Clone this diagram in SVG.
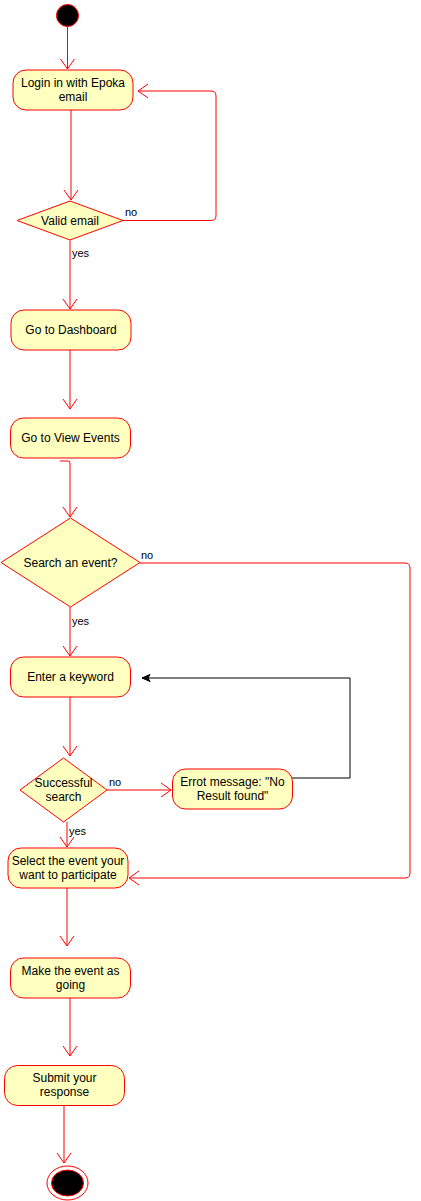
<svg xmlns="http://www.w3.org/2000/svg" width="421" height="1201" viewBox="0 0 421 1201">
<defs>
<style>
.n{fill:#ffffc0;stroke:#ff0000;stroke-width:1}
.t{font-family:"Liberation Sans",Arial,sans-serif;font-size:12px;fill:#000;text-anchor:middle}
.l{font-family:"Liberation Sans",Arial,sans-serif;font-size:11px;fill:#000}
.e{fill:none;stroke:#ff0000;stroke-width:1}
.k{fill:none;stroke:#000;stroke-width:1}
</style>
<marker id="o" markerWidth="12" markerHeight="16" refX="11" refY="8" orient="auto" markerUnits="userSpaceOnUse">
<path d="M1,1 L11,8 L1,15" fill="none" stroke="#ff0000" stroke-width="1"/>
</marker>
<marker id="b" markerWidth="10" markerHeight="10" refX="9" refY="5" orient="auto" markerUnits="userSpaceOnUse">
<path d="M1,1.5 L9,5 L1,8.5 L3,5 Z" fill="#000" stroke="#000" stroke-width="1"/>
</marker>
</defs>
<rect width="421" height="1201" fill="#fff"/>
<g id="connectors">
<path class="e" d="M67.5,27 V69" marker-end="url(#o)"/>
<path class="e" d="M71,110 V200" marker-end="url(#o)"/>
<path class="e" d="M123,220.5 H211 Q216,220.5 216,215.5 V96 Q216,91 211,91 H138" marker-end="url(#o)"/>
<path class="e" d="M70,240.5 V309" marker-end="url(#o)"/>
<path class="e" d="M70,350 V409" marker-end="url(#o)"/>
<path class="e" d="M60,461 H68 Q70,461 70,463 V517" marker-end="url(#o)"/>
<path class="e" d="M140,563 H405 Q410,563 410,568 V873 Q410,878 405,878 H129" marker-end="url(#o)"/>
<path class="e" d="M70,607 V656" marker-end="url(#o)"/>
<path class="e" d="M70,697 V756" marker-end="url(#o)"/>
<path class="e" d="M107,790 H171" marker-end="url(#o)"/>
<path class="k" d="M292,778 H350 V678 H142" marker-end="url(#b)"/>
<path class="e" d="M67,822 V847" marker-end="url(#o)"/>
<path class="e" d="M67,888 V946" marker-end="url(#o)"/>
<path class="e" d="M70,998 V1056" marker-end="url(#o)"/>
<path class="e" d="M64,1105 V1163" marker-end="url(#o)"/>
<text class="l" x="125" y="216">no</text>
<text class="l" x="72" y="257">yes</text>
<text class="l" x="141" y="559">no</text>
<text class="l" x="72" y="625">yes</text>
<text class="l" x="109" y="786">no</text>
<text class="l" x="69" y="835">yes</text>
</g>
<g id="start"><circle cx="67.5" cy="15.5" r="11" fill="#000" stroke="#ff0000"/></g>
<g id="login"><rect class="n" x="13" y="70" width="120" height="40" rx="13"/><text class="t" x="73" y="87">Login in with Epoka</text><text class="t" x="73" y="101">email</text></g>
<g id="valid"><path class="n" d="M70,201 L123,220.5 L70,240 L17,220.5 Z"/><text class="t" x="70" y="225">Valid email</text></g>
<g id="dashboard"><rect class="n" x="11" y="310" width="120" height="40" rx="13"/><text class="t" x="71" y="334">Go to Dashboard</text></g>
<g id="viewevents"><rect class="n" x="10.5" y="418" width="120" height="40" rx="13"/><text class="t" x="70.5" y="442">Go to View Events</text></g>
<g id="search"><path class="n" d="M70.5,518 L140,562.5 L70.5,607 L1,562.5 Z"/><text class="t" x="70.5" y="567">Search an event?</text></g>
<g id="keyword"><rect class="n" x="10.5" y="657" width="120" height="40" rx="13"/><text class="t" x="70.5" y="681">Enter a keyword</text></g>
<g id="success"><path class="n" d="M63.5,758 L107,790 L63.5,822 L20,790 Z"/><text class="t" x="63.5" y="787">Successful</text><text class="t" x="63.5" y="801">search</text></g>
<g id="error"><rect class="n" x="172.5" y="769" width="120" height="40" rx="13"/><text class="t" x="232.5" y="786">Errot message: "No</text><text class="t" x="232.5" y="800">Result found"</text></g>
<g id="select"><rect class="n" x="8" y="848" width="120" height="40" rx="13"/><text class="t" x="68" y="865">Select the event your</text><text class="t" x="68" y="879">want to participate</text></g>
<g id="make"><rect class="n" x="10.5" y="958" width="120" height="40" rx="13"/><text class="t" x="70.5" y="975">Make the event as</text><text class="t" x="70.5" y="989">going</text></g>
<g id="submit"><rect class="n" x="4.5" y="1065.5" width="120" height="40" rx="13"/><text class="t" x="64.5" y="1082">Submit your</text><text class="t" x="64.5" y="1096">response</text></g>
<g id="end"><ellipse cx="67.5" cy="1183" rx="20.5" ry="17" fill="#fff" stroke="#ff0000"/><ellipse cx="67.5" cy="1183" rx="16" ry="13" fill="#000" stroke="#ff0000"/></g>
</svg>
